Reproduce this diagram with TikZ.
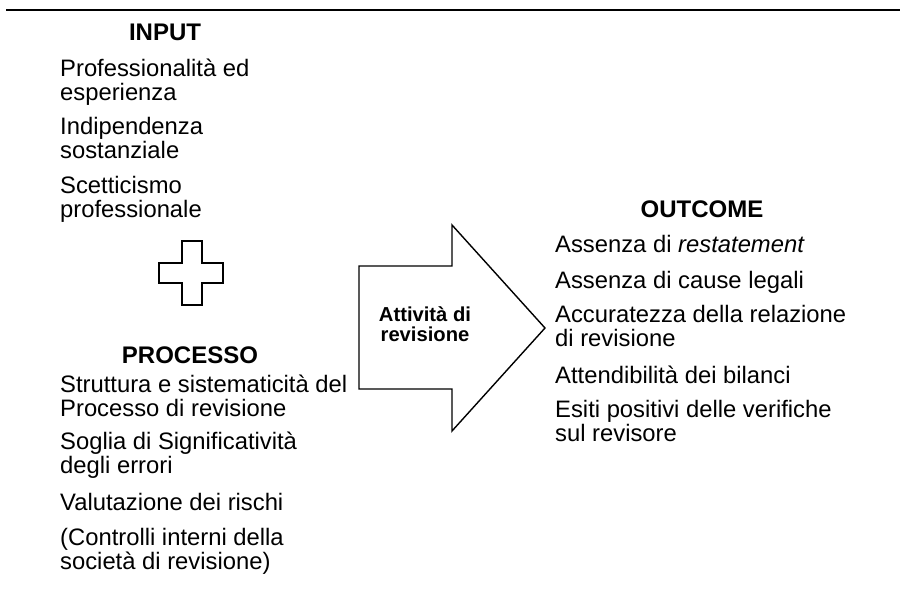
\documentclass[tikz,border=0pt]{standalone}
\usepackage{fontspec}
\setmainfont{Liberation Sans}
\tikzset{
	>=latex,
}

\begin{document}
\begin{tikzpicture}[x=1pt,y=-1pt,
		item/.style={inner sep=0pt, align=left, anchor=base west, font=\fontsize{23.8}{24}\selectfont},
		head/.style={inner sep=0pt, anchor=base, font=\fontsize{24}{24}\selectfont\bfseries},
		arrowtext/.style={inner sep=0pt, align=center, anchor=base, font=\fontsize{20.2}{20}\selectfont\bfseries},
		outline/.style={draw, line width=1.4pt, line join=miter},
	]
		\useasboundingbox (0,0) rectangle (900,599);
		\draw[line width=2pt] (6,10) coordinate(l0) -- (900,10) coordinate(l1);
		% input (anchor = baseline of the last line)
		\node(input)[head] at (165,41) {INPUT};
		\node(in1)[item] at (60,100.7) {Professionalità ed\\esperienza};
		\node(in2)[item] at (60,158.7) {Indipendenza\\sostanziale};
		\node(in3)[item] at (60,217) {Scetticismo\\professionale};
		% plus
		\draw[outline] (182,241) -- (202,241) -- (202,263) -- (223,263) -- (223,283) -- (202,283)
			-- (202,305) -- (182,305) -- (182,283) -- (159,283) -- (159,263) -- (182,263) -- cycle;
		% processo
		\node(proc)[head] at (190,363) {PROCESSO};
		\node(pr1)[item] at (60,416.7) {Struttura e sistematicità del\\Processo di revisione};
		\node(pr2)[item] at (60,473) {Soglia di Significatività\\degli errori};
		\node(pr3)[item] at (60,510) {Valutazione dei rischi};
		\node(pr4)[item] at (60,569) {(Controlli interni della\\società di revisione)};
		% freccia
		\draw[outline] (359,266) -- (452,266) -- (452,225) -- (545,328) -- (452,431) -- (452,389) -- (359,389) -- cycle;
		\node(act)[arrowtext] at (425,341.7) {Attività di\\revisione};
		% outcome
		\node(out)[head] at (702,218) {OUTCOME};
		\node(ou1)[item] at (555,252.7) {Assenza di \textit{restatement}};
		\node(ou2)[item] at (555,288) {Assenza di cause legali};
		\node(ou3)[item] at (555,346.7) {Accuratezza della relazione\\di revisione};
		\node(ou4)[item] at (555,383) {Attendibilità dei bilanci};
		\node(ou5)[item] at (555,441.7) {Esiti positivi delle verifiche\\sul revisore};
	\end{tikzpicture}
\end{document}
